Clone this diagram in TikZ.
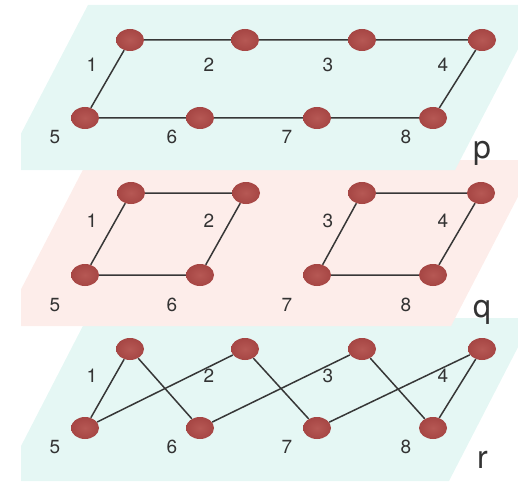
\documentclass[tikz,border=0pt]{standalone}
\usepackage{fontspec}
\setmainfont{TeX Gyre Heros}
\usetikzlibrary{shapes.geometric}
\definecolor{planecyan}{RGB}{229,247,244}
\definecolor{planepink}{RGB}{253,237,234}
\definecolor{vred}{RGB}{166,70,68}
\definecolor{vredlight}{RGB}{182,88,84}
\definecolor{edgegray}{RGB}{55,55,55}
\pgfdeclarelayer{back}
\pgfdeclarelayer{mid}
\pgfsetlayers{back,mid,main}
\tikzset{
  vtx/.style={ellipse,inner color=vredlight,outer color=vred,draw=none,minimum width=28pt,minimum height=22pt,inner sep=0pt},
  lnk/.style={draw=edgegray,line width=1.5pt},
  num/.style={anchor=base,inner sep=0pt,font=\fontsize{19}{19}\selectfont,text=black!80},
  plabel/.style={anchor=base west,inner sep=0pt,font=\fontsize{32}{32}\selectfont,text=black!80}
}
\begin{document}
\begin{tikzpicture}[x=1pt,y=-1pt]
\useasboundingbox (0,0) rectangle (518,481);
% planes
\begin{pgfonlayer}{back}
\begin{scope}
\clip (21,0) rectangle (518,481);
\fill[planecyan] (87,318) -- (533,318) -- (449,481) -- (3,481) -- cycle;
\fill[planepink] (88,160) -- (537,160) -- (451,326) -- (2,326) -- cycle;
\fill[planecyan] (88,5) -- (541,5) -- (455,170) -- (2,170) -- cycle;
\end{scope}
\end{pgfonlayer}
% ---------- plane p ----------
\foreach \i/\x in {1/130,2/245,3/362,4/482} {\node[vtx] (p\i) at (\x,40) {};}
\foreach \i/\x in {5/85,6/200,7/317,8/433} {\node[vtx] (p\i) at (\x,118) {};}
\foreach \i/\x in {1/92,2/209,3/328,4/443} {\node[num] (lp\i) at (\x,72) {\i};}
\foreach \i/\x in {5/55,6/172,7/287,8/406} {\node[num] (lp\i) at (\x,143) {\i};}
\node[plabel] (np) at (473,158) {p};
\begin{pgfonlayer}{mid}
\draw[lnk] (p1)--(p2) (p2)--(p3) (p3)--(p4) (p1)--(p5) (p4)--(p8)
           (p5)--(p6) (p6)--(p7) (p7)--(p8);
\end{pgfonlayer}
% ---------- plane q ----------
\foreach \i/\x in {1/131,2/246,3/362,4/481} {\node[vtx] (q\i) at (\x,193) {};}
\foreach \i/\x in {5/85,6/200,7/317,8/433} {\node[vtx] (q\i) at (\x,275) {};}
\foreach \i/\x in {1/92,2/209,3/328,4/443} {\node[num] (lq\i) at (\x,227) {\i};}
\foreach \i/\x in {5/55,6/172,7/287,8/406} {\node[num] (lq\i) at (\x,311) {\i};}
\node[plabel] (nq) at (473,317) {q};
\begin{pgfonlayer}{mid}
\draw[lnk] (q1)--(q2) (q1)--(q5) (q2)--(q6) (q5)--(q6)
           (q3)--(q4) (q3)--(q7) (q4)--(q8) (q7)--(q8);
\end{pgfonlayer}
% ---------- plane r ----------
\foreach \i/\x in {1/130,2/245,3/362,4/482} {\node[vtx] (r\i) at (\x,349) {};}
\foreach \i/\x in {5/85,6/200,7/317,8/433} {\node[vtx] (r\i) at (\x,428) {};}
\foreach \i/\x in {1/92,2/209,3/328,4/443} {\node[num] (lr\i) at (\x,382) {\i};}
\foreach \i/\x in {5/55,6/172,7/287,8/406} {\node[num] (lr\i) at (\x,453) {\i};}
\node[plabel] (nr) at (477,468) {r};
\begin{pgfonlayer}{mid}
\draw[lnk] (r1)--(r5) (r1)--(r6) (r5)--(r2) (r2)--(r7)
           (r6)--(r3) (r3)--(r8) (r7)--(r4) (r4)--(r8);
\end{pgfonlayer}
\end{tikzpicture}
\end{document}
